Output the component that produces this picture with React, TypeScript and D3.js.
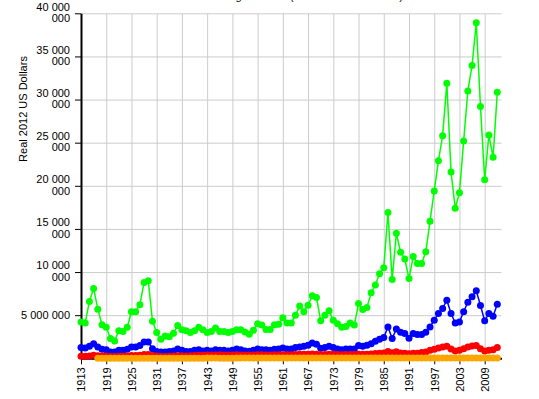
import * as d3 from "d3";
import { useEffect, useRef } from "react";

// годы наблюдений
const years: number[] = d3.range(1913, 2013);

// средний доход, реальные доллары 2012 г. (млн)
const top001: number[] = [
  4.2, 4.1, 6.6, 8.1, 5.7, 3.9, 3.6, 2.3, 2.0, 3.2,
  3.1, 3.6, 5.4, 5.4, 6.2, 8.8, 9.0, 4.3, 3.0, 2.2,
  2.6, 2.5, 2.9, 3.8, 3.3, 3.2, 3.0, 3.2, 3.6, 3.3,
  3.0, 3.1, 3.5, 3.1, 3.1, 3.0, 3.1, 3.3, 3.3, 3.05,
  2.8, 3.25, 4.0, 3.85, 3.35, 3.35, 3.9, 3.95, 4.7, 4.1,
  4.1, 5.0, 6.05, 5.4, 6.15, 7.25, 7.05, 4.35, 5.0, 5.5,
  4.4, 4.0, 3.6, 3.7, 4.1, 3.85, 6.35, 5.65, 5.9, 7.6,
  8.5, 9.8, 10.5, 16.9, 9.15, 14.5, 12.3, 11.5, 9.25, 11.8,
  11.0, 11.0, 12.35, 15.9, 19.4, 22.9, 25.8, 31.9, 21.6, 17.4,
  19.2, 25.2, 31.0, 33.95, 38.9, 29.2, 20.7, 25.9, 23.3, 30.85,
];

const top01: number[] = [
  1.24, 1.2, 1.4, 1.7, 1.3, 1.05, 1.0, 0.74, 0.74, 0.93,
  0.93, 1.05, 1.3, 1.3, 1.47, 1.9, 1.9, 1.12, 0.8, 0.74,
  0.74, 0.8, 0.85, 1.09, 0.93, 0.8, 0.8, 0.93, 1.0, 0.85,
  0.93, 0.85, 1.0, 0.93, 0.93, 0.85, 0.93, 1.09, 1.0, 0.85,
  0.82, 0.93, 1.09, 1.0, 1.0, 0.93, 1.05, 1.09, 1.2, 1.09,
  1.09, 1.24, 1.32, 1.4, 1.5, 1.78, 1.63, 1.16, 1.24, 1.4,
  1.24, 1.09, 1.0, 1.09, 1.09, 1.09, 1.47, 1.4, 1.5, 1.7,
  1.97, 2.2, 2.4, 3.64, 2.29, 3.41, 3.02, 2.87, 2.33, 2.87,
  2.75, 2.75, 3.02, 3.64, 4.42, 5.2, 5.78, 6.74, 5.2, 4.1,
  4.22, 5.39, 6.51, 7.13, 7.83, 6.12, 4.34, 5.2, 4.88, 6.28,
];

const top1: number[] = [
  0.25, 0.25, 0.28, 0.35, 0.3, 0.27, 0.27, 0.22, 0.22, 0.25,
  0.25, 0.27, 0.32, 0.32, 0.35, 0.45, 0.45, 0.33, 0.27, 0.22,
  0.22, 0.24, 0.26, 0.3, 0.3, 0.28, 0.3, 0.33, 0.35, 0.36,
  0.37, 0.37, 0.38, 0.4, 0.38, 0.38, 0.37, 0.4, 0.38, 0.37,
  0.37, 0.37, 0.4, 0.4, 0.39, 0.38, 0.41, 0.4, 0.41, 0.42,
  0.42, 0.45, 0.47, 0.48, 0.48, 0.5, 0.48, 0.45, 0.45, 0.47,
  0.46, 0.43, 0.42, 0.43, 0.44, 0.45, 0.47, 0.48, 0.48, 0.5,
  0.55, 0.6, 0.62, 0.8, 0.65, 0.75, 0.62, 0.58, 0.54, 0.58,
  0.58, 0.66, 0.74, 0.93, 1.05, 1.2, 1.32, 1.4, 1.09, 0.85,
  0.93, 1.12, 1.32, 1.43, 1.47, 1.12, 0.85, 0.93, 1.0, 1.24,
];

// нижние 90% (данные с 1917 г.), в долларах
const bottom90: (number | null)[] = [
  null, null, null, null,
  11000, 10500, 11000, 10800, 10200, 11500, 12800, 12900, 13000, 13200,
  13300, 13400, 13600, 12100, 11000, 9200, 8900, 9600, 10300, 11200,
  11700, 11000, 11800, 12900, 15200, 18400, 21000, 22100, 21300, 19800,
  19400, 19800, 19500, 20800, 21500, 22100, 23000, 22800, 24000, 24800,
  24900, 24700, 25600, 25800, 26100, 26900, 27500, 28500, 29600, 30600,
  31000, 32000, 32800, 32400, 32500, 33700, 34200, 33000, 31800, 32600,
  33000, 33900, 33700, 32600, 32100, 31200, 31300, 32200, 32500, 33100,
  32500, 32600, 32500, 31900, 31100, 31200, 31000, 31600, 31900, 32300,
  33200, 34400, 35300, 35800, 35000, 33900, 33300, 33400, 33500, 33900,
  34000, 33100, 31400, 30700, 30100, 30400,
];

const xTicks: number[] = d3.range(1913, 2013, 6);
const yTicks: number[] = [5e6, 10e6, 15e6, 20e6, 25e6, 30e6, 35e6, 40e6];

const seriesList = [
  { name: "top001", color: "lime", values: top001.map((v) => v * 1e6) },
  { name: "top01", color: "blue", values: top01.map((v) => v * 1e6) },
  { name: "top1", color: "red", values: top1.map((v) => v * 1e6) },
  { name: "bottom90", color: "orange", values: bottom90 },
];

const App = () => {
  const chartRef = useRef<SVGSVGElement>(null);

  const width = 539;
  const height = 399;
  const margin = { top: 13.3, bottom: 40.7, left: 81, right: 37.5 };
  const boundsWidth = width - margin.left - margin.right;
  const boundsHeight = height - margin.top - margin.bottom;

  useEffect(() => {
    const svg = d3.select(chartRef.current);
    svg.selectAll("*").remove();

    const scaleX = d3.scaleLinear().domain([1913, 2013]).range([0, boundsWidth]);
    const scaleY = d3.scaleLinear().domain([0, 40e6]).range([boundsHeight, 0]);

    const g = svg.append("g").attr("transform", `translate(${margin.left}, ${margin.top})`);

    // заголовок (почти целиком за краем)
    svg.append("text")
      .attr("x", 305)
      .attr("y", 0)
      .attr("text-anchor", "middle")
      .style("font-size", "11px")
      .text("Average Income (Real 2012 US Dollars)");

    // сетка
    g.append("g")
      .attr("transform", `translate(0, ${boundsHeight})`)
      .call(d3.axisBottom(scaleX).tickValues(xTicks).tickSize(-boundsHeight).tickFormat(() => ""))
      .call((s) => s.select(".domain").remove())
      .selectAll("line").attr("stroke", "#ccc");

    g.append("g")
      .call(d3.axisLeft(scaleY).tickValues(yTicks).tickSize(-boundsWidth).tickFormat(() => ""))
      .call((s) => s.select(".domain").remove())
      .selectAll("line").attr("stroke", "#ccc");

    // оси
    const fmt = (v: number) => d3.format(",")(v).replace(/,/g, " ");

    const yAxis = g.append("g")
      .call(d3.axisLeft(scaleY).tickValues(yTicks).tickSizeOuter(0).tickPadding(5));
    yAxis.select(".domain").attr("stroke-width", 2);
    yAxis.selectAll("text").each(function (d) {
      const t = d3.select(this as SVGTextElement);
      const label = fmt(d as number);
      const words = label.split(" ");
      t.text(null).style("font-size", "11px").style("font-family", "Liberation Sans, Arial, sans-serif");
      if (label.length > 9) {
        t.append("tspan").attr("x", -11).attr("dy", "-0.3em").text(words.slice(0, -1).join(" "));
        t.append("tspan").attr("x", -11).attr("dy", "1.05em").text(words[words.length - 1]);
      } else {
        t.attr("dy", null).append("tspan").attr("x", -11).attr("dy", "0.32em").text(label);
      }
    });

    const xAxis = g.append("g")
      .attr("transform", `translate(0, ${boundsHeight})`)
      .call(d3.axisBottom(scaleX).tickValues(xTicks).tickSizeOuter(0).tickFormat((d) => String(d)));
    xAxis.select(".domain").attr("stroke-width", 2);
    xAxis.selectAll("text")
      .style("font-size", "11px")
      .style("font-family", "Liberation Sans, Arial, sans-serif")
      .style("text-anchor", "end")
      .attr("x", -9)
      .attr("y", 0)
      .attr("dy", "0.35em")
      .attr("transform", "rotate(-90)");

    // подпись оси Y
    svg.append("text")
      .attr("transform", "translate(27, 109) rotate(-90)")
      .attr("text-anchor", "middle")
      .style("font-size", "11px")
      .style("font-family", "Liberation Sans, Arial, sans-serif")
      .text("Real 2012 US Dollars");

    // линии и точки
    seriesList.forEach((s) => {
      const pts = years.map((yr, i) => ({ yr, v: s.values[i] })).filter((p) => p.v != null) as { yr: number; v: number }[];
      const line = d3.line<{ yr: number; v: number }>()
        .x((p) => scaleX(p.yr))
        .y((p) => scaleY(p.v));
      g.append("path")
        .datum(pts)
        .attr("d", line)
        .attr("fill", "none")
        .attr("stroke", s.color)
        .attr("stroke-width", 1.5);
      g.selectAll(".dot-" + s.name)
        .data(pts)
        .enter()
        .append("circle")
        .attr("cx", (p) => scaleX(p.yr))
        .attr("cy", (p) => scaleY(p.v))
        .attr("r", 3.5)
        .style("fill", s.color);
    });
  }, []);

  return (
    <svg
      ref={chartRef}
      width={width}
      height={height}
      style={{ position: "absolute", left: 0, top: 0, fontFamily: "Liberation Sans, Arial, sans-serif" }}
    ></svg>
  );
};

export default App;
